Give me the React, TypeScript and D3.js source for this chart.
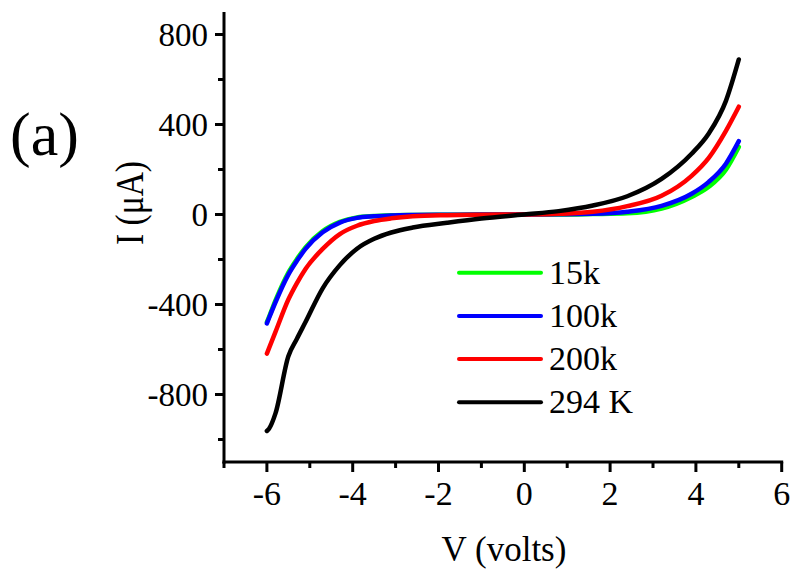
import React from "react";
import * as d3 from "d3";

const voltages = [-6, -5.95, -5.8, -5.5, -5.3, -5.1, -4.7, -4.3, -3.9, -3.5, -3.1, -2.6, -1.8, -1, 0, 0.8, 1.6, 2.4, 3.2, 3.9, 4.3, 4.7, 5];

const current15k = [-478, -455, -382, -258, -198, -146, -74, -33, -13, -7, -3, -2, -1, 0, 0, 0, 2, 5, 26, 78, 123, 199, 300];
const current100k = [-484, -460, -390, -267, -206, -153, -79, -36, -15, -8, -4, -2, -1, 0, 0, 1, 3, 12, 38, 92, 145, 226, 326];
const current200k = [-618, -594, -522, -378, -305, -242, -153, -87, -50, -29, -17, -8, -3, -1, 0, 3, 12, 37, 83, 172, 252, 372, 479];
const current294k = [-962, -952, -884, -630, -552, -478, -328, -225, -152, -108, -80, -58, -37, -18, 0, 15, 40, 81, 158, 270, 360, 505, 689];

const seriesNames = ["15k", "100k", "200k", "294 K"];
const seriesColors = ["#00ff00", "#0000ff", "#ff0000", "#000000"];
const seriesValues = [current15k, current100k, current200k, current294k];

const xMajorTicks = [-6, -4, -2, 0, 2, 4, 6];
const xMinorTicks = [-7, -5, -3, -1, 1, 3, 5];
const yMajorTicks = [-800, -400, 0, 400, 800];
const yMinorTicks = [-1000, -600, -200, 200, 600];

const FONT = '"Liberation Serif", "Times New Roman", serif';
const ts = { fontFamily: FONT };

export default function App() {
  const x = d3.scaleLinear().domain([-7, 6]).range([224, 781.7]);
  const y = d3.scaleLinear().domain([-1100, 900]).range([462, 12]);
  const line = d3
    .line<number>()
    .x((_, i) => x(voltages[i]))
    .y((d) => y(d))
    .curve(d3.curveMonotoneX);

  const legendX0 = 459;
  const legendX1 = 541;
  const legendY0 = 272.7;
  const legendStep = 43.2;

  return (
    <svg
      width={796}
      height={575}
      style={{ position: "absolute", left: 0, top: 0, background: "#fff" }}
    >
      <rect x={0} y={0} width={796} height={575} fill="#fff" />
      {seriesValues.map((vals, i) => (
        <path
          key={seriesNames[i]}
          d={line(vals) || ""}
          fill="none"
          stroke={seriesColors[i]}
          strokeWidth={4.5}
          strokeLinecap="round"
          strokeLinejoin="round"
        />
      ))}
      <line x1={x(-7)} x2={x(-7)} y1={y(900)} y2={y(-1100) + 1.5} stroke="#000" strokeWidth={3} />
      <line x1={x(-7) - 1.5} x2={x(6) + 1.5} y1={y(-1100)} y2={y(-1100)} stroke="#000" strokeWidth={3} />
      {yMajorTicks.map((t) => (
        <g key={"ym" + t}>
          <line x1={x(-7) - 9} x2={x(-7)} y1={y(t)} y2={y(t)} stroke="#000" strokeWidth={3} />
          <text x={208} y={y(t) + 11.2} fontSize={33} textAnchor="end" fill="#000" style={ts}>
            {t}
          </text>
        </g>
      ))}
      {yMinorTicks.map((t) => (
        <line key={"yn" + t} x1={x(-7) - 6} x2={x(-7)} y1={y(t)} y2={y(t)} stroke="#000" strokeWidth={3} />
      ))}
      {xMajorTicks.map((t) => (
        <g key={"xm" + t}>
          <line x1={x(t)} x2={x(t)} y1={y(-1100)} y2={y(-1100) + 10} stroke="#000" strokeWidth={3} />
          <text x={x(t)} y={505} fontSize={34} textAnchor="middle" fill="#000" style={ts}>
            {t}
          </text>
        </g>
      ))}
      {xMinorTicks.map((t) => (
        <line key={"xn" + t} x1={x(t)} x2={x(t)} y1={y(-1100)} y2={y(-1100) + 6} stroke="#000" strokeWidth={3} />
      ))}
      <text x={504} y={561} fontSize={35} textAnchor="middle" fill="#000" style={ts}>
        V (volts)
      </text>
      <text
        transform={`translate(143,203) rotate(-90)`}
        fontSize={40}
        textAnchor="middle"
        fill="#000"
        textLength={84}
        lengthAdjust="spacingAndGlyphs"
        style={ts}
      >
        I (μA)
      </text>
      <text x={10} y={155} fontSize={62} fill="#000" style={ts}>
        (a)
      </text>
      {seriesNames.map((name, i) => (
        <g key={"lg" + name}>
          <line
            x1={legendX0}
            x2={legendX1}
            y1={legendY0 + i * legendStep}
            y2={legendY0 + i * legendStep}
            stroke={seriesColors[i]}
            strokeWidth={4}
            strokeLinecap="round"
          />
          <text x={549} y={legendY0 + i * legendStep + 10.8} fontSize={34} fill="#000" style={ts}>
            {name}
          </text>
        </g>
      ))}
    </svg>
  );
}
